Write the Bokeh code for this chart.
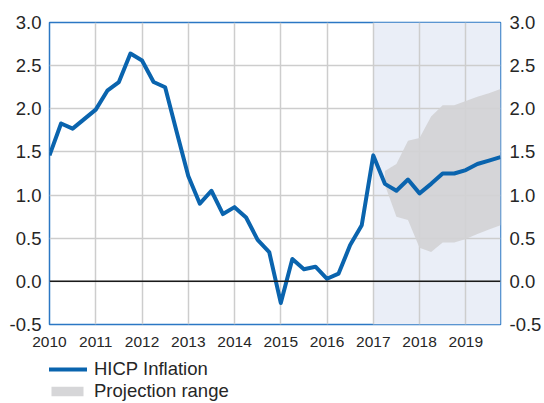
from bokeh.plotting import figure
from bokeh.layouts import column
from bokeh.models import (LinearAxis, FixedTicker, PrintfTickFormatter, Legend, LegendItem,
                          BoxAnnotation, Span, Range1d, ColumnDataSource)
from bokeh.embed import file_html
from bokeh.resources import INLINE

# ---- data ----
quarters = [2010.00, 2010.25, 2010.50, 2010.75, 2011.00, 2011.25, 2011.50, 2011.75,
            2012.00, 2012.25, 2012.50, 2012.75, 2013.00, 2013.25, 2013.50, 2013.75,
            2014.00, 2014.25, 2014.50, 2014.75, 2015.00, 2015.25, 2015.50, 2015.75,
            2016.00, 2016.25, 2016.50, 2016.75, 2017.00, 2017.25, 2017.50, 2017.75,
            2018.00, 2018.25, 2018.50, 2018.75, 2019.00, 2019.25, 2019.50, 2019.75]
hicp = [1.46, 1.83, 1.77, 1.88, 1.99, 2.21, 2.31, 2.64,
        2.56, 2.31, 2.25, 1.73, 1.22, 0.90, 1.05, 0.78,
        0.86, 0.74, 0.48, 0.34, -0.25, 0.26, 0.14, 0.17,
        0.03, 0.09, 0.42, 0.65, 1.46, 1.13, 1.05, 1.18,
        1.02, 1.13, 1.25, 1.25, 1.29, 1.36, 1.40, 1.44]

proj_quarters = [2017.25, 2017.50, 2017.75, 2018.00, 2018.25, 2018.50,
                 2018.75, 2019.00, 2019.25, 2019.50, 2019.75]
proj_upper = [1.28, 1.36, 1.63, 1.66, 1.91, 2.04, 2.04, 2.09, 2.14, 2.18, 2.23]
proj_lower = [1.12, 0.75, 0.71, 0.39, 0.34, 0.45, 0.45, 0.49, 0.55, 0.60, 0.65]

projection_start = 2017.0
year_ticks = list(range(2010, 2020))
y_ticks = [-0.5, 0.0, 0.5, 1.0, 1.5, 2.0, 2.5, 3.0]
series_labels = ["HICP Inflation", "Projection range"]

# ---- styles ----
BLUE = "#0a64ae"
FRAME = "#2b77c4"
GRID = "#cdcdcd"
SHADE = "#eaeef7"
BAND = "#d2d3d5"
TXT = "#262626"
FONT = "Liberation Sans"

p = figure(width=544, height=358, output_backend="svg", toolbar_location=None,
           x_range=Range1d(2010, 2019.75), y_range=Range1d(-0.5, 3.0),
           min_border_left=49, min_border_right=42, min_border_top=22, min_border_bottom=34,
           y_axis_location="left")
p.background_fill_color = "white"
p.border_fill_color = "white"
p.outline_line_color = FRAME
p.outline_line_width = 1.5

# projection period shading (below grid)
shade = BoxAnnotation(left=projection_start, fill_color=SHADE, fill_alpha=1.0,
                      line_color=None, level="image")
p.add_layout(shade)

# grid
p.xgrid.ticker = FixedTicker(ticks=year_ticks)
p.ygrid.ticker = FixedTicker(ticks=y_ticks)
for g in (p.xgrid, p.ygrid):
    g.grid_line_color = GRID
    g.grid_line_width = 1.5

band_src = ColumnDataSource(dict(x=proj_quarters, lo=proj_lower, hi=proj_upper))
band = p.varea(x="x", y1="lo", y2="hi", source=band_src, fill_color=BAND, fill_alpha=0.92)

zero = Span(location=0, dimension="width", line_color="#1a1a1a", line_width=1.5)
p.add_layout(zero)

line_src = ColumnDataSource(dict(x=quarters, y=hicp))
ln = p.line(x="x", y="y", source=line_src, line_color=BLUE, line_width=4,
            line_join="round")

# axes
def style_axis(ax, size):
    ax.axis_line_color = None
    ax.major_tick_line_color = None
    ax.minor_tick_line_color = None
    ax.major_tick_out = 0
    ax.major_tick_in = 0
    ax.minor_tick_out = 0
    ax.major_label_text_font = FONT
    ax.major_label_text_font_size = size
    ax.major_label_text_color = TXT

xa = p.xaxis[0]
xa.ticker = FixedTicker(ticks=year_ticks)
style_axis(xa, "15.5px")
xa.major_label_standoff = 12

ya = p.yaxis[0]
ya.ticker = FixedTicker(ticks=y_ticks)
ya.formatter = PrintfTickFormatter(format="%.1f")
style_axis(ya, "18.5px")
ya.major_label_standoff = 8

yr = LinearAxis(ticker=FixedTicker(ticks=y_ticks), formatter=PrintfTickFormatter(format="%.1f"))
style_axis(yr, "18.5px")
yr.major_label_standoff = 9
p.add_layout(yr, "right")

# ---- legend strip (separate figure; same sources drawn out of its view) ----
lg = figure(width=544, height=45, output_backend="svg", toolbar_location=None,
            x_range=Range1d(0, 1), y_range=Range1d(10, 11),
            min_border_left=0, min_border_right=0, min_border_top=0, min_border_bottom=0,
            x_axis_type=None, y_axis_type=None)
lg.outline_line_color = None
lg.background_fill_color = "white"
lg.border_fill_color = "white"
lg.xgrid.visible = False
lg.ygrid.visible = False
lg_line = lg.line(x="x", y="y", source=line_src, line_color=BLUE, line_width=4)
lg_band = lg.varea(x="x", y1="lo", y2="hi", source=band_src, fill_color=BAND, fill_alpha=0.92)

legend = Legend(items=[LegendItem(label=series_labels[0], renderers=[lg_line]),
                       LegendItem(label=series_labels[1], renderers=[lg_band])],
                location=(-2, 1), orientation="vertical",
                label_text_font=FONT, label_text_font_size="18.5px", label_text_color=TXT,
                glyph_width=40, glyph_height=12, label_height=21, label_standoff=7,
                spacing=0, padding=0, margin=0,
                border_line_color=None, background_fill_alpha=0)
lg.add_layout(legend, "center")

layout = column(p, lg, spacing=0)
open("out.html", "w").write(file_html(layout, INLINE))
